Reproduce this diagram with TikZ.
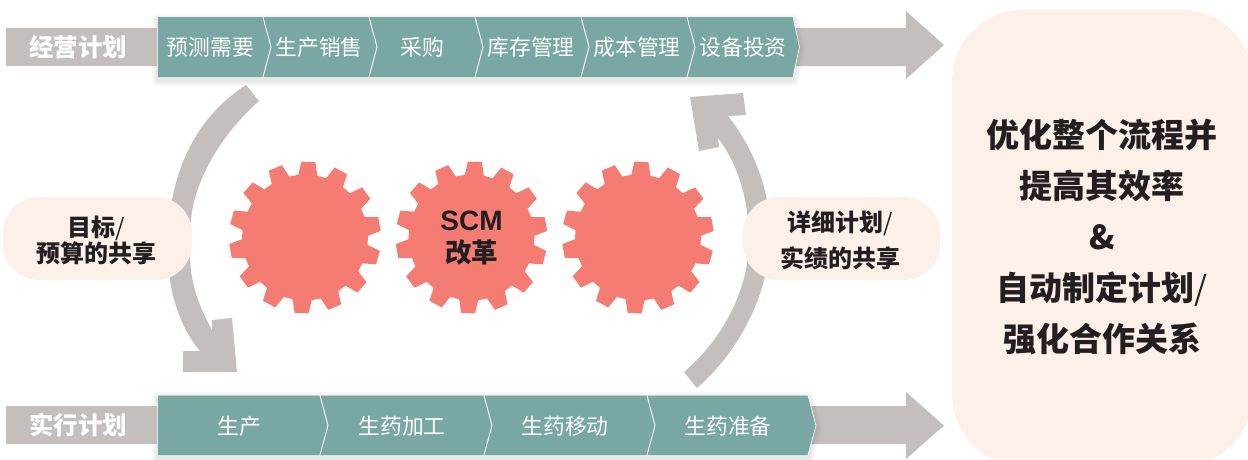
\documentclass[tikz,border=0pt]{standalone}
\usepackage{fontspec}
\newfontfamily\cjk{Noto Sans CJK SC}
\newfontfamily\scmfont{Liberation Sans}
\definecolor{stepteal}{HTML}{78A7A4}
\definecolor{flowgray}{HTML}{C4BFBD}
\definecolor{gearred}{HTML}{F47C72}
\definecolor{panelcream}{HTML}{FDF0E9}
\definecolor{gearink}{HTML}{231F20}
\tikzset{
  labeltext/.style={text=white,inner sep=0pt,font=\cjk\bfseries\fontsize{24.5}{28}\selectfont},
  steptext/.style={text=white,inner sep=0pt,font=\cjk\fontsize{21.8}{26}\selectfont},
  bubble/.style={fill=panelcream,rounded corners=36pt,minimum height=83pt,inner sep=0pt},
  bubbletext/.style={align=center,text=gearink,inner sep=0pt,font=\cjk\bfseries\fontsize{24}{#1}\selectfont},
  softshadow/.style={black,opacity=0.025,line join=round},
  chevline/.style={white,line width=0.9pt},
  gear/.pic={
    \fill [gearred] (78.7:63pt)
      \foreach \k [evaluate=\k as \a using 87.4+\k*360/14] in {0,...,13} {
        -- (\a-8.7:63pt) -- (\a-5.3:76pt) -- (\a+5.3:76pt) -- (\a+8.7:63pt)
      } -- cycle;
  }
}

\begin{document}
\begin{tikzpicture}[x=1pt,y=-1pt]
  \useasboundingbox (0,0) rectangle (1248,459);

  % right panel
  \fill [panelcream,rounded corners=72pt] (952,9.5) rectangle (1253,466);
  \node [align=center,text=gearink,font=\cjk\bfseries\fontsize{33}{51}\selectfont] (result) at (1102,237)
    {优化整个流程并\\提高其效率\\\&\\自动制定计划{\mdseries /}\\强化合作关系};

  % big arrows
  \fill [flowgray] (790,28) -- (906,28) -- (906,11) -- (944,45) -- (906,79) -- (906,66) -- (790,66) -- cycle;
  \fill [flowgray] (790,406) -- (906,406) -- (906,392) -- (944,425.5) -- (906,459) -- (906,444) -- (790,444) -- cycle;

  % curved arrows
  \fill [flowgray] (246,85) .. controls (200,115) and (170,165) .. (168,240)
    .. controls (166,285) and (178,325) .. (200,351)
    -- (183,351) -- (183,372) -- (237,372) -- (232,318) -- (212,320) -- (212,330)
    .. controls (195,300) and (187,270) .. (191,240)
    .. controls (186,195) and (215,140) .. (259,101) -- cycle;
  \fill [flowgray] (697,388) .. controls (735,355) and (768,300) .. (770,240)
    .. controls (772,195) and (755,150) .. (728,116)
    -- (746,115) -- (743,93) -- (690,97) -- (699,151) -- (719,147) -- (718,138)
    .. controls (735,160) and (749,195) .. (749,240)
    .. controls (749,290) and (722,340) .. (684,372) -- cycle;

  % gears
  \pic at (305,237.5) {gear};
  \pic at (471.5,237.5) {gear};
  \pic at (638,237.5) {gear};
  \node [text=gearink,inner sep=0pt,font=\scmfont\bfseries\fontsize{28}{32}\selectfont] (scm) at (471.5,221) {SCM};
  \node [text=gearink,inner sep=0pt,font=\cjk\bfseries\fontsize{26.5}{32}\selectfont] (reform) at (471.5,252) {改革};

  % bars
  \foreach \w in {3,6,9,12}
    \draw [softshadow,line width=\w pt] (158,20) -- (793,20) -- (799,50) -- (793,80) -- (158,80) -- cycle;
  \foreach \w in {3,6,9,12}
    \draw [softshadow,line width=\w pt] (158,398) -- (808,398) -- (816,428) -- (808,458) -- (158,458) -- cycle;
  \fill [stepteal] (158,17) -- (793,17) -- (799.5,47) -- (793,77) -- (158,77) -- cycle;
  \fill [stepteal] (158,395.5) -- (808,395.5) -- (816,425.5) -- (808,455) -- (158,455) -- cycle;

  \foreach \bx in {263,369,475,581,687} {
    \draw [chevline] (\bx,17) -- (\bx+8,47) -- (\bx,77);
  }
  \draw [chevline,line width=0.7pt] (793,17) -- (799.5,47) -- (793,77);
  \foreach \bx in {320,484,647} {
    \draw [chevline] (\bx,395.5) -- (\bx+8,425.5) -- (\bx,455);
  }
  \draw [chevline,line width=0.7pt] (808,395.5) -- (816,425.5) -- (808,455);

  % labels
  \fill [flowgray] (6,28) rectangle (157,66);
  \fill [flowgray] (6,406) rectangle (157,444);
  \node [labeltext] (plan) at (78,47) {经营计划};
  \node [labeltext] (exec) at (78,425) {实行计划};

  \node [steptext] (forecast) at (210.5,47) {预测需要};
  \node [steptext] (sales) at (319,47) {生产销售};
  \node [steptext] (purchase) at (422,47) {采购};
  \node [steptext] (stock) at (531,47) {库存管理};
  \node [steptext] (cost) at (637,47) {成本管理};
  \node [steptext] (invest) at (743,47) {设备投资};

  \node [steptext] (make) at (239,426) {生产};
  \node [steptext] (process) at (402,426) {生药加工};
  \node [steptext] (move) at (565,426) {生药移动};
  \node [steptext] (prepare) at (728,426) {生药准备};

  \node [bubble,minimum width=189pt] (goal) at (97.5,238.5) {};
  \node [bubble,minimum width=197pt] (detail) at (841.5,238.5) {};
  \node [bubbletext=25] (goaltext) at (96.5,240) {目标{\mdseries /}\\预算的共享};
  \node [bubbletext=36] (detailtext) at (840.5,240) {详细计划{\mdseries /}\\实绩的共享};
\end{tikzpicture}
\end{document}
